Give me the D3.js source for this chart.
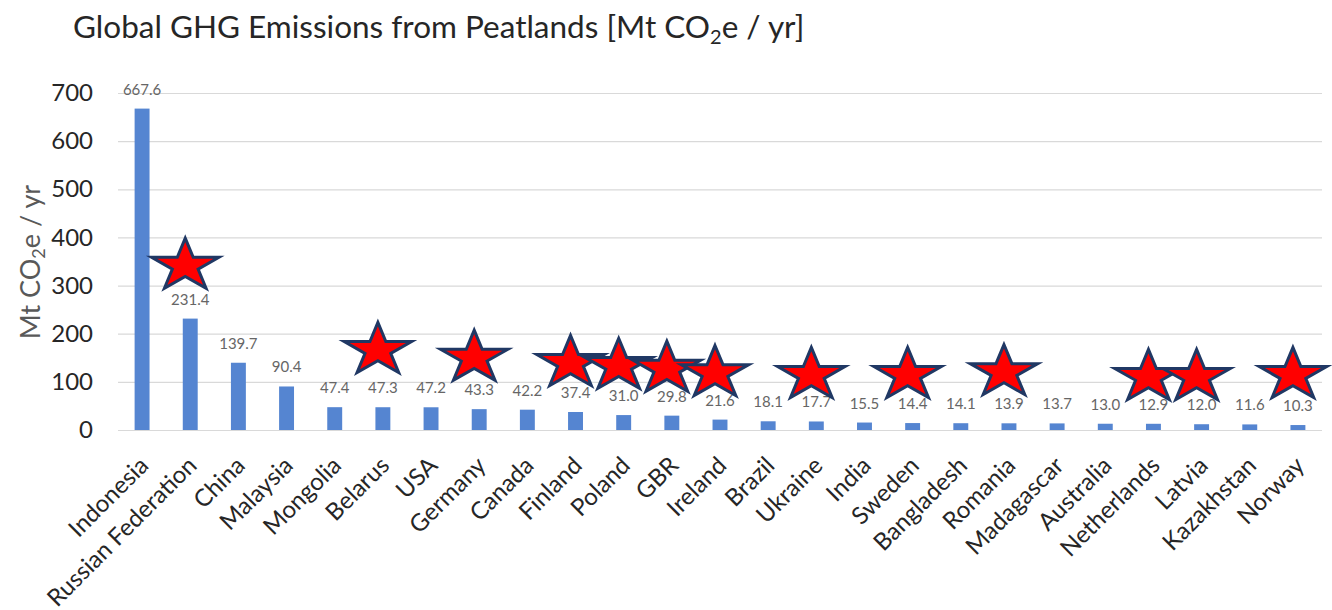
<!DOCTYPE html>
<html>
<head>
<meta charset="utf-8">
<script src="https://cdn.jsdelivr.net/npm/d3@7"></script>
<style>
  body { margin: 0; background: #fff; }
  text { font-family: Lato, "Open Sans", sans-serif; }
</style>
</head>
<body>
<div id="chart"></div>
<script>
// data
var countries = ["Indonesia", "Russian Federation", "China", "Malaysia", "Mongolia", "Belarus", "USA",
  "Germany", "Canada", "Finland", "Poland", "GBR", "Ireland", "Brazil", "Ukraine", "India", "Sweden",
  "Bangladesh", "Romania", "Madagascar", "Australia", "Netherlands", "Latvia", "Kazakhstan", "Norway"];
var emissions = [667.6, 231.4, 139.7, 90.4, 47.4, 47.3, 47.2, 43.3, 42.2, 37.4, 31.0, 29.8, 21.6, 18.1,
  17.7, 15.5, 14.4, 14.1, 13.9, 13.7, 13.0, 12.9, 12.0, 11.6, 10.3];
var yTicks = [0, 100, 200, 300, 400, 500, 600, 700];

// star annotations (country, level in Mt)
var starCountries = ["Russian Federation", "Belarus", "Germany", "Finland", "Poland", "GBR", "Ireland",
  "Ukraine", "Sweden", "Romania", "Netherlands", "Latvia", "Norway"];
var starLevels = [341, 166, 150, 139, 133, 127, 118, 114, 114, 120, 110, 110, 114];

var svgWidth = 1332;
var svgHeight = 610;

var margin = {top: 93, right: 10, bottom: 180, left: 118};
var width = svgWidth - margin.left - margin.right;
var height = svgHeight - margin.top - margin.bottom;

var svg = d3.select("#chart")
  .append("svg")
  .attr("width", svgWidth)
  .attr("height", svgHeight);

var chartGroup = svg.append("g")
  .attr("transform", `translate(${margin.left}, ${margin.top})`);

var data = countries.map(function(c, i) { return {country: c, value: emissions[i]}; });

var x = d3.scaleBand()
  .domain(countries)
  .range([0, width])
  .paddingInner(0.69)
  .paddingOuter(0.345);

var y = d3.scaleLinear()
  .domain([0, 700])
  .range([height, 0]);

// gridlines
chartGroup.selectAll(".grid")
  .data(yTicks)
  .enter()
  .append("line")
  .attr("x1", 0)
  .attr("x2", width)
  .attr("y1", d => y(d) + 0.5)
  .attr("y2", d => y(d) + 0.5)
  .attr("stroke", "#d9d9d9")
  .attr("stroke-width", 1.2);

// y axis labels
var leftAxis = d3.axisLeft(y).tickValues(yTicks).tickSize(0).tickPadding(25);
var yAxisG = chartGroup.append("g").call(leftAxis);
yAxisG.select(".domain").remove();
yAxisG.selectAll("text")
  .attr("font-size", "24px")
  .attr("fill", "#262626")
  .style("font-family", "Lato");

// bars
chartGroup.selectAll(".bar")
  .data(data)
  .enter()
  .append("rect")
  .attr("x", d => x(d.country))
  .attr("y", d => y(d.value))
  .attr("width", x.bandwidth())
  .attr("height", d => height - y(d.value))
  .attr("fill", "#5585d1");

// value labels
chartGroup.selectAll(".val")
  .data(data)
  .enter()
  .append("text")
  .attr("x", d => x(d.country) + x.bandwidth() / 2)
  .attr("y", d => y(d.value) - 14)
  .attr("text-anchor", "middle")
  .attr("font-size", "15px")
  .attr("fill", "#666666")
  .text(d => d.value.toFixed(1));

// x axis labels
var bottomAxis = d3.axisBottom(x).tickSize(0).tickPadding(0);
var xAxisG = chartGroup.append("g")
  .attr("transform", `translate(0, ${height})`)
  .call(bottomAxis);
xAxisG.select(".domain").remove();
xAxisG.selectAll("text")
  .attr("font-size", "24px")
  .attr("fill", "#262626")
  .style("font-family", "Lato")
  .attr("text-anchor", "end")
  .attr("x", 0)
  .attr("y", 0)
  .attr("dy", "0.35em")
  .attr("transform", "translate(2, 31) rotate(-45)");

// stars
var star = d3.symbol().type(d3.symbolStar).size(860);
chartGroup.selectAll(".star")
  .data(starCountries)
  .enter()
  .append("path")
  .attr("d", star)
  .attr("transform", (d, i) => `translate(${x(d) + x.bandwidth() / 2 - 5}, ${y(starLevels[i])}) scale(1.28, 1)`)
  .attr("fill", "#ff0000")
  .attr("stroke", "#203864")
  .attr("stroke-width", 3)
  .attr("vector-effect", "non-scaling-stroke")
  .attr("stroke-linejoin", "miter");

// title
var title = svg.append("text")
  .attr("x", 73)
  .attr("y", 38)
  .attr("font-size", "31.5px")
  .attr("fill", "#262626");
title.append("tspan").text("Global GHG Emissions from Peatlands [Mt CO");
title.append("tspan").attr("font-size", "20px").attr("dy", 6).text("2");
title.append("tspan").attr("dy", -6).text("e / yr]");

// y axis title
var yTitle = svg.append("text")
  .attr("transform", "translate(40, 262) rotate(-90)")
  .attr("text-anchor", "middle")
  .attr("font-size", "27px")
  .attr("fill", "#595959");
yTitle.append("tspan").text("Mt CO");
yTitle.append("tspan").attr("font-size", "18px").attr("dy", 5).text("2");
yTitle.append("tspan").attr("dy", -5).text("e / yr");
</script>
</body>
</html>
